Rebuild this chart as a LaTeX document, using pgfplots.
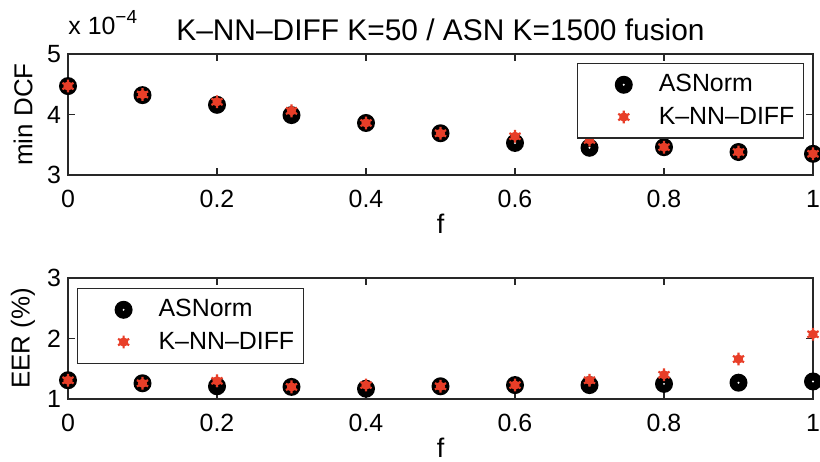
\documentclass[border=0pt]{standalone}
\usepackage{pgfplots}
\pgfplotsset{compat=1.18}
\usepackage{fontspec}
\setmainfont{Liberation Sans}
\definecolor{mred}{RGB}{232,62,40}
\definecolor{axgray}{RGB}{40,40,40}
\pgfdeclareplotmark{ringdot}{%
  \pgfpathcircle{\pgfpoint{0pt}{0pt}}{\pgfplotmarksize}%
  \pgfsetfillcolor{black}\pgfusepathqfill
  \pgfpathcircle{\pgfpoint{0pt}{0pt}}{0.55pt}%
  \pgfsetfillcolor{white}\pgfusepathqfill}
\pgfdeclareplotmark{redblob}{%
  \pgfpathcircle{\pgfpoint{0pt}{0pt}}{0.72\pgfplotmarksize}%
  \pgfusepathqfill
  \pgfuseplotmark{asterisk}}
\newcommand{\fs}{\fontsize{12.5}{15}\selectfont}
\pgfplotsset{
  mystyle/.style={
    scale only axis, width=372.5bp, height=60.5bp,
    xmin=0, xmax=1,
    xtick={0,0.2,0.4,0.6,0.8,1},
    xticklabels={0,0.2,0.4,0.6,0.8,1},
    xtick pos=both, ytick pos=both,
    tick align=inside, major tick length=3.5bp,
    clip=false,
    font=\fs,
    tick label style={font=\fs},
    xticklabel style={yshift=-4bp},
    /pgf/number format/assume math mode=true,
    axis line style={line width=0.6pt, axgray},
    every tick/.style={axgray, line width=0.6pt},
    xlabel={f},
    every axis x label/.style={at={(axis description cs:0.5,0)}, anchor=north, yshift=-16bp, font=\fontsize{13.5}{15}\selectfont},
    every axis y label/.style={at={(axis description cs:-0.0604,0.5)}, rotate=90, anchor=center, font=\fontsize{13}{15}\selectfont},
    legend cell align=left,
    legend image code/.code={\path[draw=none,fill=none] (0bp,0bp) -- (36bp,0bp); \draw[##1,only marks] plot coordinates {(21bp,0bp)};},
    legend style={draw=axgray, line width=0.6pt, font=\fs, inner xsep=2bp, inner ysep=3bp,
      row sep=1bp, nodes={inner sep=2.5bp}},
  },
  asn/.style={only marks, mark=ringdot, mark size=4.5bp},
  knn/.style={only marks, mark=redblob, color=mred, mark size=3.2bp, mark options={line width=1.1pt, color=mred, fill=mred}},
}
\begin{document}
\begin{tikzpicture}
\begin{axis}[mystyle, at={(34bp,143.5bp)}, anchor=south west,
  ymin=3, ymax=5, ytick={3,4,5}, yticklabels={3,4,5},
  ylabel={min DCF},
  legend style={at={(1,1)}, anchor=north east, xshift=-4.5bp, yshift=-4.5bp},
  title={K\textendash NN\textendash DIFF K=50 / ASN K=1500 fusion},
  title style={at={(0.5,1)}, anchor=base, yshift=1bp, font=\fontsize{15}{17}\selectfont},
]
\addplot[asn] coordinates {(0,4.47) (0.1,4.32) (0.2,4.16) (0.3,3.99) (0.4,3.86) (0.5,3.69) (0.6,3.53) (0.7,3.45) (0.8,3.46) (0.9,3.38) (1,3.35)};
\addplot[knn] coordinates {(0,4.47) (0.1,4.33) (0.2,4.21) (0.3,4.06) (0.4,3.86) (0.5,3.69) (0.6,3.64) (0.7,3.58) (0.8,3.46) (0.9,3.38) (1,3.35)};
\legend{ASNorm, K\textendash NN\textendash DIFF}
\node[anchor=base west, inner sep=0pt, font=\fs] at (rel axis cs:0,1) [yshift=9.5bp] {x 10\raisebox{0.85ex}{\fontsize{9.5}{10}\selectfont \textminus 4}};
\end{axis}
\begin{axis}[mystyle, at={(34bp,31.5bp)}, anchor=south west,
  ymin=1, ymax=3, ytick={1,2,3}, yticklabels={1,2,3},
  ylabel={EER (\%)},
  legend style={at={(0,1)}, anchor=north west, xshift=4.5bp, yshift=-5bp},
]
\addplot[asn] coordinates {(0,1.31) (0.1,1.26) (0.2,1.21) (0.3,1.20) (0.4,1.17) (0.5,1.21) (0.6,1.23) (0.7,1.23) (0.8,1.25) (0.9,1.27) (1,1.29)};
\addplot[knn] coordinates {(0,1.31) (0.1,1.26) (0.2,1.30) (0.3,1.20) (0.4,1.23) (0.5,1.21) (0.6,1.23) (0.7,1.31) (0.8,1.40) (0.9,1.66) (1,2.07)};
\legend{ASNorm, K\textendash NN\textendash DIFF}
\end{axis}
\pgfresetboundingbox
\useasboundingbox (0,0) rectangle (410bp,231bp);
\end{tikzpicture}
\end{document}
